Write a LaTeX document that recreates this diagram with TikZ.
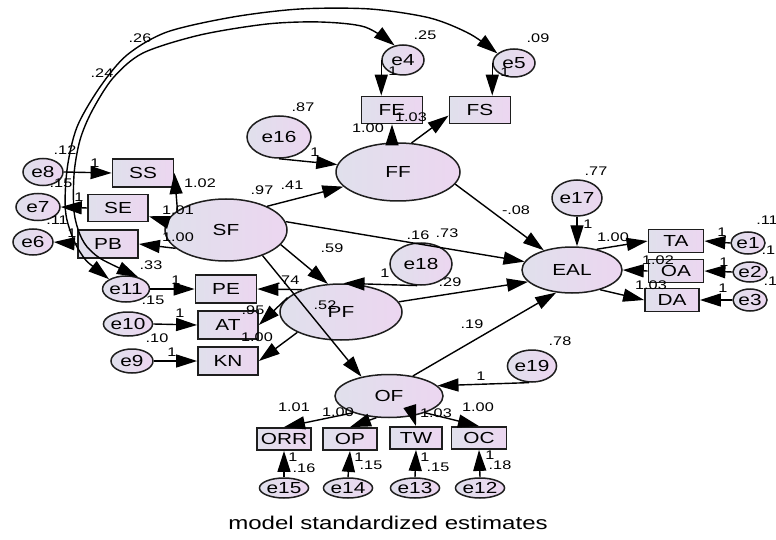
\documentclass[tikz,border=0pt]{standalone}
\usepackage{fontspec}
\setmainfont{Liberation Sans}[FakeStretch=1.3]
\usetikzlibrary{arrows.meta,shapes.geometric}
\definecolor{fillA}{RGB}{224,224,236}
\definecolor{fillB}{RGB}{236,214,240}
\definecolor{edge}{RGB}{30,30,30}
\tikzset{
  lat/.style={ellipse, draw=edge, line width=1.5pt, left color=fillA, right color=fillB,
    inner sep=0pt, font=\fontsize{16}{16}\selectfont},
  obs/.style={rectangle, draw=edge, line width=1.8pt, left color=fillA, right color=fillB,
    inner sep=0pt, font=\fontsize{16}{16}\selectfont},
  arr/.style={-{Triangle[length=21pt,width=13pt]}, line width=1.4pt},
  cov/.style={{Triangle[length=21pt,width=13pt]}-{Triangle[length=21pt,width=13pt]}, line width=1.4pt},
  num/.style={font=\fontsize{12.5}{12.5}\selectfont, inner sep=0pt},
}
\newcommand{\lv}[5]{\node[lat, minimum width=#3pt, minimum height=#4pt] (#1) at #2 {#5};}
\newcommand{\ov}[5]{\node[obs, minimum width=#3pt, minimum height=#4pt] (#1) at #2 {#5};}
\newcommand{\nm}[3]{\node[num] (#1) at #2 {#3};}
\begin{document}
\begin{tikzpicture}[x=1pt,y=-1pt]
\fill[white] (0,0) rectangle (776,540);
\useasboundingbox (0,0) rectangle (776,540);

% latent variables
\lv{FF}{(398,172)}{124}{58}{FF}
\lv{SF}{(226,230)}{122}{62}{SF}
\lv{PF}{(341,312)}{122}{56}{PF}
\lv{EAL}{(572,270)}{100}{46}{EAL}
\lv{OF}{(389,396)}{108}{43}{OF}

% disturbances and errors
\lv{e4}{(403,60)}{42}{30}{e4}
\lv{e5}{(514,63)}{42}{28}{e5}
\lv{e16}{(279,137)}{64}{42}{e16}
\lv{e17}{(577,198)}{50}{36}{e17}
\lv{e18}{(421,264)}{62}{42}{e18}
\lv{e19}{(532,366)}{44}{32}{e19}
\lv{e8}{(43,172)}{40}{27}{e8}
\lv{e7}{(38,207)}{44}{27}{e7}
\lv{e6}{(33,242)}{40}{26}{e6}
\lv{e11}{(126,289)}{42}{26}{e11}
\lv{e10}{(128,324)}{40}{24}{e10}
\lv{e9}{(132,361)}{42}{24}{e9}
\lv{e1}{(748,243)}{34}{22}{e1}
\lv{e2}{(750,272)}{34}{20}{e2}
\lv{e3}{(750,300)}{34}{22}{e3}
\lv{e15}{(284,488)}{32}{20}{e15}
\lv{e14}{(348,488)}{32}{20}{e14}
\lv{e13}{(415,488)}{32}{20}{e13}
\lv{e12}{(480,488)}{32}{20}{e12}

% indicators
\ov{FE}{(392,110)}{61}{27}{FE}
\ov{FS}{(480,110)}{61}{27}{FS}
\ov{SS}{(143,173)}{61}{28}{SS}
\ov{SE}{(118,208)}{60}{27}{SE}
\ov{PB}{(108,244)}{60}{28}{PB}
\ov{PE}{(226,289)}{61}{28}{PE}
\ov{AT}{(228,325)}{60}{28}{AT}
\ov{KN}{(228,361)}{60}{28}{KN}
\ov{TA}{(676,241)}{55}{23}{TA}
\ov{OA}{(676,271)}{55}{23}{OA}
\ov{DA}{(672,300)}{54}{23}{DA}
\ov{ORR}{(284,439)}{54}{22}{ORR}
\ov{OP}{(350,439)}{54}{22}{OP}
\ov{TW}{(416,438)}{52}{22}{TW}
\ov{OC}{(479,438)}{55}{22}{OC}

% covariances between e11 and e4, e5
\draw[cov] plot[smooth] coordinates {(e11.150) (80,252) (66,215) (67,170) (77,127) (100,87) (127,55) (167,32) (233,17) (300,9) (370,9) (430,18) (470,34) (e5.150)};
\draw[cov] plot[smooth] coordinates {(e11.45) (90,250) (75,218) (74,175) (80,140) (92,111) (113,78) (143,53) (200,35) (267,24) (320,22) (365,27) (e4.120)};

% structural paths
\draw[arr] (SF.30) -- (FF.195);
\draw[arr] (SF.-15) -- (PF.115);
\draw[arr] (SF.-35) -- (OF.145);
\draw[arr] (SF.8) -- (EAL.170);
\draw[arr] (FF.-12) -- (EAL.145);
\draw[arr] (PF.10) -- (EAL.195);
\draw[arr] (OF.40) -- (EAL.235);
\draw[arr] (e16.-90) -- (FF.173);
\draw[arr] (e17.south) -- (e17.south |- EAL.north);
\draw[arr] (e18.-100) -- (PF.85);
\draw[arr] (e19.-100) -- (OF.12);

% measurement paths
\draw[arr] (FF.north -| FE.south) -- (FE.south);
\draw[arr] (FF.65) -- (FS.190);
\draw[arr] (e4.west) -- (e4.west |- FE.north);
\draw[arr] (e5.west) -- (e5.west |- FS.north);
\draw[arr] (SF.158) -- (SS.east);
\draw[arr] (SF.172) -- (SE.-15);
\draw[arr] (SF.200) -- (PB.east);
\draw[arr] (e8.east) -- (SS.west);
\draw[arr] (SE.west) -- (e7.east);
\draw[arr] (PB.west) -- (e6.east);
\draw[arr] (PF.150) -- (PE.east);
\draw[arr] (PF.165) -- (AT.east);
\draw[arr] (PF.205) -- (KN.east);
\draw[arr] (e11.east) -- (PE.west);
\draw[arr] (e10.east) -- (AT.west);
\draw[arr] (e9.east) -- (KN.west);
\draw[arr] (EAL.40) -- (TA.west);
\draw[arr] (OA.west) -- (EAL.east);
\draw[arr] (EAL.-35) -- (DA.west);
\draw[arr] (e1.west) -- (TA.east);
\draw[arr] (e2.west) -- (OA.east);
\draw[arr] (e3.west) -- (DA.east);
\draw[arr] (OF.205) -- (ORR.north);
\draw[arr] (OF.240) -- (OP.north);
\draw[arr] (OF.-40) -- (TW.north);
\draw[arr] (OF.-25) -- (OC.north);
\draw[arr] (e15.north) -- (ORR.south);
\draw[arr] (e14.north) -- (OP.south);
\draw[arr] (e13.north) -- (TW.south);
\draw[arr] (e12.north) -- (OC.south);

% estimates
\nm{c26}{(140,38)}{.26}
\nm{c24}{(102,73)}{.24}
\nm{v4}{(425,35)}{.25}
\nm{v5}{(538,38)}{.09}
\nm{w4}{(393,71)}{1}
\nm{w5}{(505,72)}{1}
\nm{lFE}{(368,128)}{1.00}
\nm{lFS}{(411,117)}{1.03}
\nm{v16}{(303,107)}{.87}
\nm{w16}{(315,152)}{1}
\nm{bFF}{(262,190)}{.97}
\nm{sFF}{(292,185)}{.41}
\nm{bEF}{(516,210)}{-.08}
\nm{bPF}{(332,248)}{.59}
\nm{lSS}{(200,183)}{1.02}
\nm{lSE}{(178,210)}{1.01}
\nm{lPB}{(178,237)}{1.00}
\nm{w8}{(95,163)}{1}
\nm{w7}{(79,197)}{1}
\nm{w6}{(72,233)}{1}
\nm{v8}{(65,150)}{.12}
\nm{v7}{(61,183)}{.15}
\nm{v6}{(57,220)}{.11}
\nm{v11}{(151,265)}{.33}
\nm{v10a}{(153,300)}{.15}
\nm{v9}{(157,338)}{.10}
\nm{w11}{(176,280)}{1}
\nm{w10}{(180,313)}{1}
\nm{w9}{(172,352)}{1}
\nm{lPE}{(288,280)}{.74}
\nm{lAT}{(253,310)}{.95}
\nm{lKN}{(257,337)}{1.00}
\nm{bOF}{(325,305)}{.52}
\nm{bSE}{(418,235)}{.16}
\nm{v18}{(447,233)}{.73}
\nm{w18}{(385,273)}{1}
\nm{bPE}{(450,282)}{.29}
\nm{bOE}{(472,324)}{.19}
\nm{v19}{(560,341)}{.78}
\nm{w19}{(481,376)}{1}
\nm{v17}{(596,171)}{.77}
\nm{w17}{(588,224)}{1}
\nm{lTA}{(613,237)}{1.00}
\nm{lOA}{(658,260)}{1.02}
\nm{lDA}{(651,285)}{1.03}
\nm{w1}{(722,232)}{1}
\nm{w2}{(724,262)}{1}
\nm{w3}{(723,288)}{1}
\nm{v1}{(767,220)}{.11}
\nm{v2}{(773,250)}{.18}
\nm{v3}{(775,281)}{.17}
\nm{lORR}{(294,407)}{1.01}
\nm{lOP}{(338,412)}{1.00}
\nm{lTW}{(436,413)}{1.03}
\nm{lOC}{(478,407)}{1.00}
\nm{w15}{(293,457)}{1}
\nm{v15}{(304,468)}{.16}
\nm{w14}{(359,457)}{1}
\nm{v14}{(371,465)}{.15}
\nm{w13}{(425,457)}{1}
\nm{v13}{(438,467)}{.15}
\nm{w12}{(490,455)}{1}
\nm{v12}{(500,465)}{.18}

\node[font=\fontsize{18.5}{20}\selectfont] (title) at (388,523) {model standardized estimates};
\end{tikzpicture}
\end{document}
